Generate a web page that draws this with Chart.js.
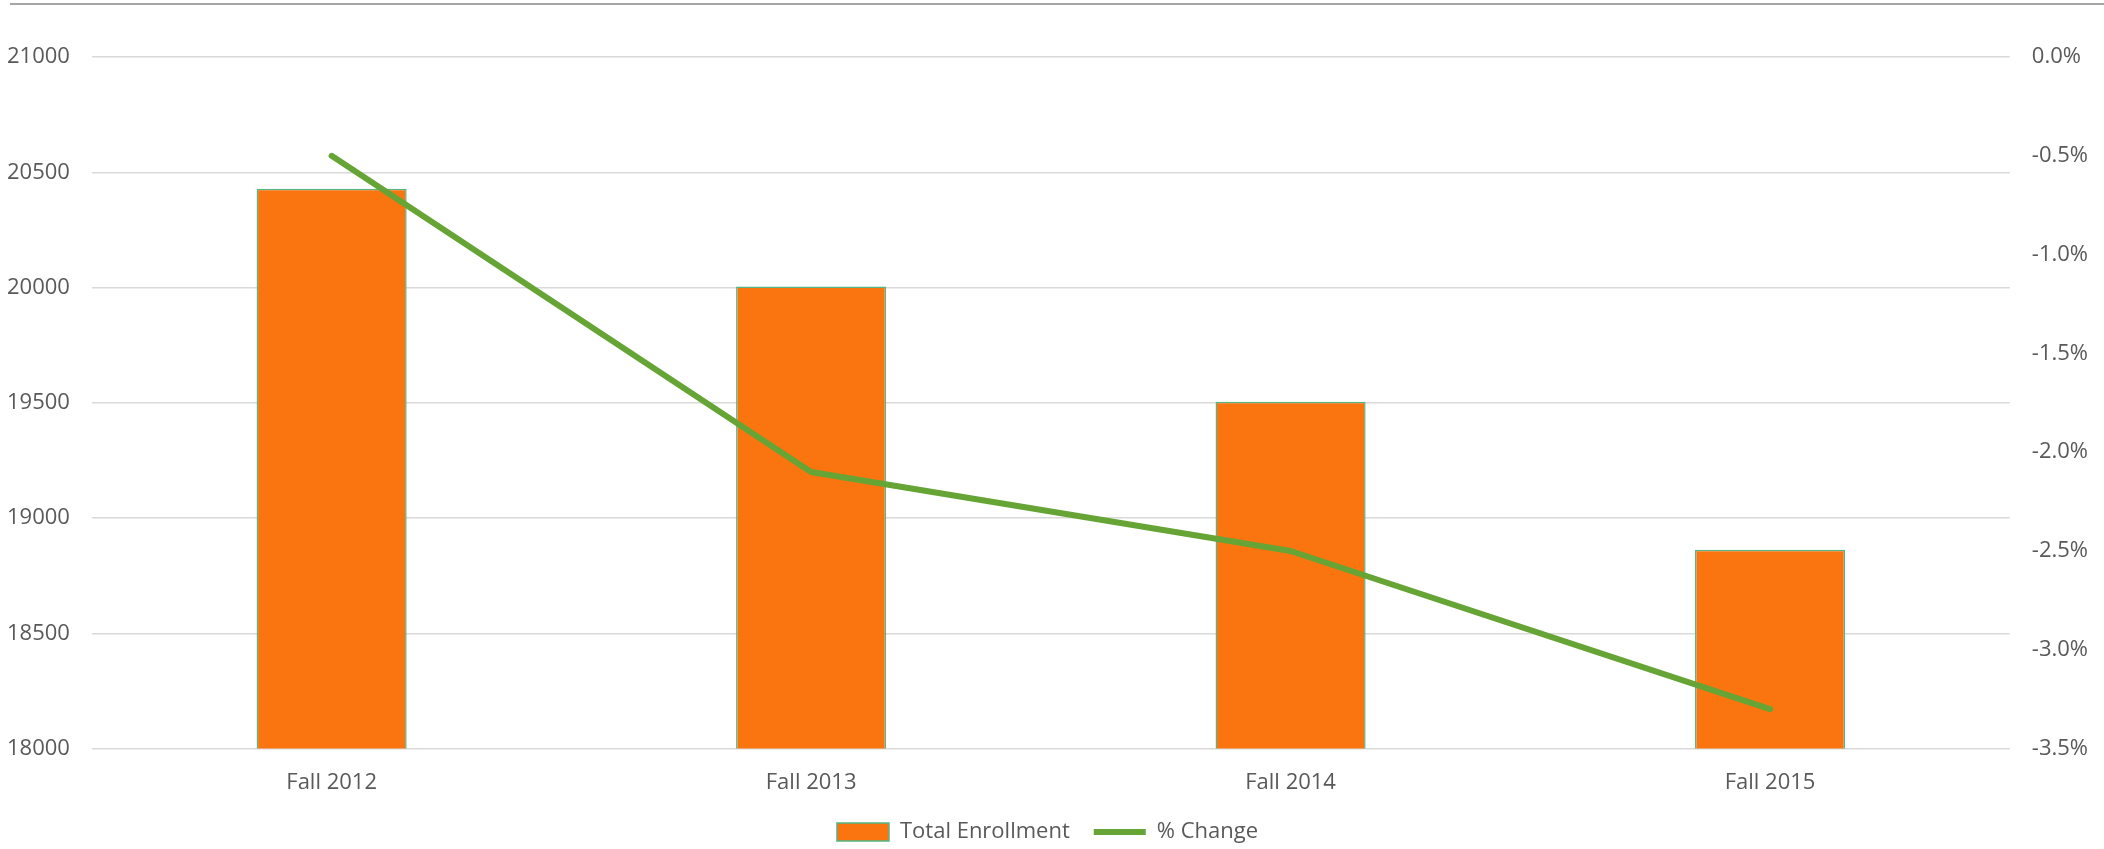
<!DOCTYPE html>
<html>
<head>
<meta charset="utf-8">
<script src="https://cdn.jsdelivr.net/npm/chart.js@4.4.0/dist/chart.umd.min.js"></script>
<style>
  html, body { margin: 0; padding: 0; background: #fff; }
  #wrap { position: relative; width: 2104px; height: 849px; }
  #topline { position: absolute; left: 10px; right: 0; top: 3px; border-top: 2px solid #a6a6a6; }
</style>
</head>
<body>
<div id="wrap">
  <div id="topline"></div>
  <canvas id="myChart" width="2104" height="849"></canvas>
</div>
<script>
var terms = ["Fall 2012", "Fall 2013", "Fall 2014", "Fall 2015"]
var enrollment = [20428, 20005, 19505, 18863]
var pctChange = [-0.5, -2.1, -2.5, -3.3]

Chart.defaults.font.family = "'Open Sans', sans-serif"
Chart.defaults.font.size = 22
Chart.defaults.color = "#595959"

var ctx = document.getElementById("myChart").getContext('2d')
var chart = new Chart(ctx, {
    data: {
        labels: terms,
        datasets: [
            {
                type: 'line',
                label: "% Change",
                data: pctChange,
                yAxisID: 'y1',
                borderColor: "#66a535",
                backgroundColor: "#66a535",
                borderWidth: 6,
                borderCapStyle: 'round',
                borderJoinStyle: 'round',
                pointRadius: 0,
                pointStyle: 'line',
                tension: 0,
                order: 0
            },
            {
                type: 'bar',
                label: "Total Enrollment",
                data: enrollment,
                yAxisID: 'y',
                backgroundColor: "#fa7410",
                borderColor: "#55b585",
                borderWidth: 1.5,
                pointStyle: 'rect',
                categoryPercentage: 1,
                barPercentage: 0.313,
                order: 1
            }
        ]
    },
    options: {
        responsive: false,
        animation: false,
        layout: { padding: { left: -15, right: -6, top: 57, bottom: -4 } },
        plugins: {
            tooltip: { enabled: false },
            legend: {
                position: 'bottom',
                reverse: true,
                labels: {
                    usePointStyle: true,
                    pointStyleWidth: 52,
                    boxHeight: 18,
                    padding: 24,
                    color: "#595959",
                    font: { size: 22 }
                }
            }
        },
        scales: {
            x: {
                grid: { display: false, drawTicks: false },
                border: { display: false },
                ticks: { padding: 21 },
                afterFit: function(scale) { scale.height -= 20 }
            },
            y: {
                position: 'left',
                min: 18000,
                max: 21000,
                ticks: {
                    stepSize: 500,
                    padding: 22,
                    callback: function(v) { return String(v) }
                },
                grid: { color: "#d9d9d9", lineWidth: 1.5, drawTicks: false },
                border: { display: false }
            },
            y1: {
                position: 'right',
                min: -3.5,
                max: 0,
                ticks: {
                    stepSize: 0.5,
                    padding: 22,
                    callback: function(v) { return v.toFixed(1) + '%' }
                },
                grid: { display: false, drawTicks: false },
                border: { display: false }
            }
        }
    }
})
</script>
</body>
</html>
